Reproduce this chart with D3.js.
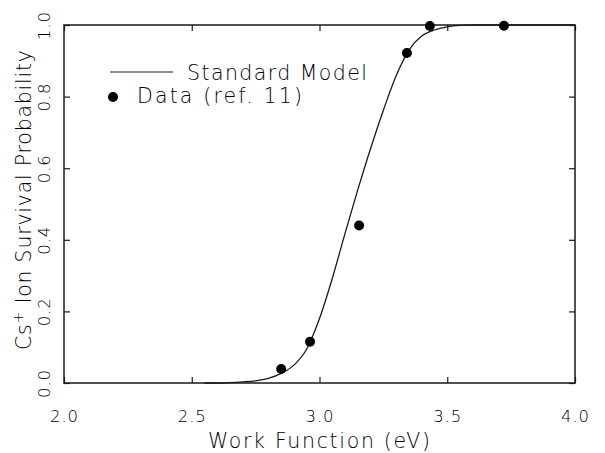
<!DOCTYPE html>
<html>
<head>
<meta charset="utf-8">
<script src="https://cdn.jsdelivr.net/npm/d3@7/dist/d3.min.js"></script>
<style>
  html, body { margin: 0; padding: 0; background: #fff; }
  svg { display: block; }
  text { font-family: "DejaVu Sans", sans-serif; font-weight: 200; fill: #000; }
</style>
</head>
<body>
<svg id="chart" width="605" height="453"></svg>
<script>
// Work function (eV) values of the measured points
const dataX = [2.85, 2.963, 3.155, 3.342, 3.432, 3.722];
// Cs+ ion survival probability of the measured points
const dataY = [0.039, 0.115, 0.44, 0.922, 0.997, 0.998];

// Standard model curve samples
const modelX = [2.55, 2.60, 2.65, 2.70, 2.75, 2.80, 2.85, 2.90, 2.95, 3.00, 3.05, 3.10, 3.15, 3.20, 3.25, 3.30, 3.35, 3.40, 3.45, 3.50, 3.55, 3.60, 3.70, 4.00];
const modelY = [0.000, 0.000, 0.001, 0.003, 0.006, 0.013, 0.027, 0.050, 0.095, 0.180, 0.292, 0.418, 0.540, 0.655, 0.762, 0.858, 0.930, 0.969, 0.986, 0.995, 0.999, 1.000, 1.000, 1.000];

const xTicks = [2.0, 2.5, 3.0, 3.5, 4.0];
const yTicks = [0.0, 0.2, 0.4, 0.6, 0.8, 1.0];

const xTitle = "Work Function (eV)";
const legendLine = "Standard Model";
const legendDots = "Data (ref. 11)";

const svg = d3.select("#chart");
const ink = "#1a1a1a";

const x = d3.scaleLinear().domain([2, 4]).range([64, 575]);
const y = d3.scaleLinear().domain([0, 1]).range([383, 25]);

const fmt = d3.format(".1f");

// spread a label's letters so it spans the given width
function spread(sel, width) {
  sel.each(function () {
    const n = this.textContent.length;
    const w = this.getComputedTextLength();
    if (n > 1) d3.select(this).attr("letter-spacing", (width - w) / (n - 1));
  });
}

// bottom axis with inward ticks
const gB = svg.append("g").attr("transform", `translate(0,${y(0)})`)
  .call(d3.axisBottom(x).tickValues(xTicks).tickSizeInner(-6).tickSizeOuter(0)
    .tickPadding(27).tickFormat(fmt));
gB.selectAll("text").attr("font-size", 16.5).attr("dy", "0.71em")
  .attr("font-family", null).call(spread, 28);

// top axis, ticks only
svg.append("g").attr("transform", `translate(0,${y(1)})`)
  .call(d3.axisTop(x).tickValues(xTicks).tickSizeInner(-6).tickSizeOuter(0).tickFormat(""));

// left axis with rotated labels
const gL = svg.append("g").attr("transform", `translate(${x(2)},0)`)
  .call(d3.axisLeft(y).tickValues(yTicks).tickSizeInner(-6).tickSizeOuter(0).tickFormat(fmt));
gL.selectAll("text")
  .attr("x", null).attr("dy", null)
  .attr("text-anchor", "middle")
  .attr("font-size", 16.5)
  .attr("transform", "translate(-14,0) rotate(-90)")
  .call(spread, 28);

// right axis, ticks only
svg.append("g").attr("transform", `translate(${x(4)},0)`)
  .call(d3.axisRight(y).tickValues(yTicks).tickSizeInner(-6).tickSizeOuter(0).tickFormat(""));

svg.selectAll(".domain").remove();
svg.selectAll(".tick line").attr("stroke", ink).attr("stroke-width", 1.2);
svg.selectAll(".tick text").attr("fill", "#000");

// plot frame
svg.append("rect")
  .attr("x", x(2)).attr("y", y(1))
  .attr("width", x(4) - x(2)).attr("height", y(0) - y(1))
  .attr("fill", "none").attr("stroke", ink).attr("stroke-width", 1.5);

// model curve
const pts = modelX.map((v, i) => [v, modelY[i]]);
svg.append("path")
  .datum(pts)
  .attr("d", d3.line().x(d => x(d[0])).y(d => y(d[1])).curve(d3.curveMonotoneX))
  .attr("fill", "none").attr("stroke", ink).attr("stroke-width", 1.3);

// measured points
svg.append("g").selectAll("circle")
  .data(dataX.map((v, i) => [v, dataY[i]]))
  .join("circle")
  .attr("cx", d => x(d[0])).attr("cy", d => y(d[1]))
  .attr("r", 5).attr("fill", "#000");

// axis titles
svg.append("text")
  .attr("x", 208).attr("y", 448).attr("font-size", 20.5)
  .text(xTitle).call(spread, 222);

const yt = svg.append("text")
  .attr("transform", "translate(31,350) rotate(-90)")
  .attr("font-size", 20.5);
yt.append("tspan").text("Cs");
yt.append("tspan").attr("dy", -8).attr("font-size", 14).text("+");
yt.append("tspan").attr("dy", 8).text(" Ion Survival Probability");
spread(yt, 300);

// legend
svg.append("line")
  .attr("x1", 110).attr("x2", 173).attr("y1", 72).attr("y2", 72)
  .attr("stroke", ink).attr("stroke-width", 1.2);
svg.append("text").attr("x", 187).attr("y", 80).attr("font-size", 20.5)
  .text(legendLine).call(spread, 180);
svg.append("circle").attr("cx", 113).attr("cy", 97).attr("r", 5).attr("fill", "#000");
svg.append("text").attr("x", 137).attr("y", 103).attr("font-size", 20.5)
  .text(legendDots).call(spread, 165);
</script>
</body>
</html>
